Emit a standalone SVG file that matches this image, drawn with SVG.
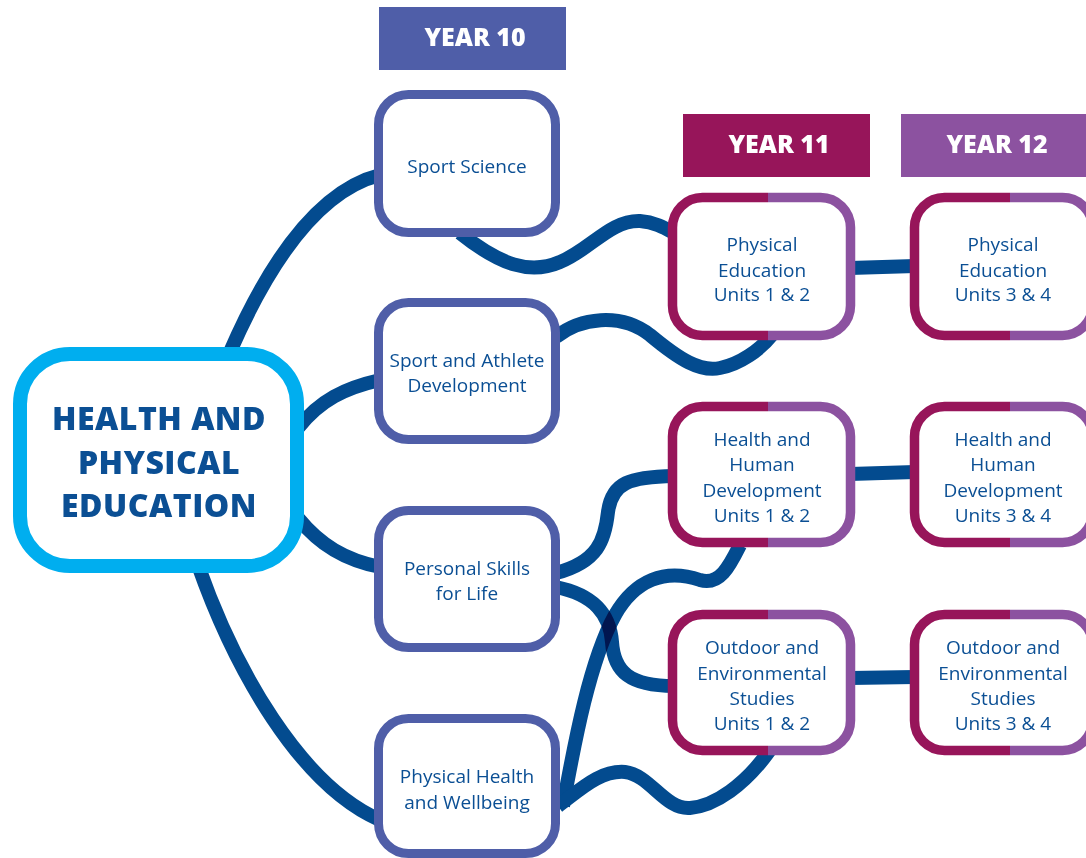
<svg xmlns="http://www.w3.org/2000/svg" width="1086" height="858" viewBox="0 0 1086 858">
<style>
.bg{fill:#ffffff}
.conn path{fill:none;stroke:#034b8f;stroke-width:14;stroke-linecap:butt}
.conn path.mx{mix-blend-mode:multiply}
.main{fill:#ffffff;stroke:#00aeef;stroke-width:14}
.y10{fill:#ffffff;stroke:#4f5ea8;stroke-width:9}
.y11{fill:#ffffff;stroke:url(#split);stroke-width:9.5}
.hdr10{fill:#4f5ea8}
.hdr11{fill:#97155a}
.hdr12{fill:#8c52a0}
.ht{font-family:"Open Sans","Liberation Sans",sans-serif;font-weight:800;font-size:25px;fill:#ffffff;text-anchor:middle}
.mt{font-family:"Open Sans","Liberation Sans",sans-serif;font-weight:800;font-size:32px;fill:#0b4f94;text-anchor:middle;letter-spacing:0.5px}
.nt{font-family:"Open Sans","Liberation Sans",sans-serif;font-size:19px;fill:#0b4f94;text-anchor:middle}
</style>
<defs>
<linearGradient id="split" x1="0" y1="0" x2="1" y2="0">
<stop offset="0" stop-color="#97155a"/>
<stop offset="0.536" stop-color="#97155a"/>
<stop offset="0.536" stop-color="#8c52a0"/>
<stop offset="1" stop-color="#8c52a0"/>
</linearGradient>
</defs>
<rect class="bg" x="0" y="0" width="1086" height="858"/>

<g id="headers">
<g id="year10"><rect class="hdr10" x="379" y="7" width="187" height="63"/><text class="ht" x="475" y="46">YEAR 10</text></g>
<g id="year11"><rect class="hdr11" x="683" y="114" width="187" height="63"/><text class="ht" x="779" y="153">YEAR 11</text></g>
<g id="year12"><rect class="hdr12" x="901" y="114" width="192" height="63"/><text class="ht" x="997" y="153">YEAR 12</text></g>
</g>

<g id="connectors" class="conn">
<path d="M 230 352 C 270 260, 320 190, 380 175"/>
<path d="M 298 428 C 320 400, 345 388, 380 380"/>
<path d="M 298 518 C 320 545, 345 560, 380 567"/>
<path d="M 198 565 C 235 670, 300 785, 380 820"/>
<path d="M 460 233 C 500 265, 530 275, 560 262 C 590 250, 610 220, 640 221 C 655 222, 665 228, 674 233"/>
<path d="M 556 337 C 580 318, 620 312, 650 335 C 680 360, 700 372, 720 368 C 740 364, 760 350, 772 335"/>
<path d="M 850 268 L 915 266"/>
<path d="M 850 474 L 915 472"/>
<path d="M 850 678 L 915 677"/>
<path d="M 556 573 C 598 562, 605 540, 608 512 C 612 482, 630 477, 674 476"/>
<path class="mx" d="M 556 587 C 595 595, 610 615, 612 642 C 614 672, 630 686, 674 686"/>
<path class="mx" d="M 563 806 C 575 740, 590 660, 615 615 C 635 580, 665 568, 700 580 C 720 586, 730 565, 740 545"/>
<path d="M 558 806 C 580 790, 600 770, 625 772 C 650 775, 665 810, 690 808 C 715 806, 745 785, 770 750"/>
</g>

<g id="main-node">
<rect class="main" x="20" y="354" width="277" height="212" rx="50"/>
<text class="mt" x="159" y="430">HEALTH AND</text>
<text class="mt" x="159" y="474">PHYSICAL</text>
<text class="mt" x="159" y="517">EDUCATION</text>
</g>

<g id="sport-science">
<rect class="y10" x="378.5" y="94.5" width="177" height="138" rx="30"/>
<text class="nt" x="467" y="173">Sport Science</text>
</g>
<g id="sport-athlete">
<rect class="y10" x="378.5" y="302.5" width="177" height="137" rx="30"/>
<text class="nt" x="467" y="367">Sport and Athlete</text>
<text class="nt" x="467" y="392">Development</text>
</g>
<g id="personal-skills">
<rect class="y10" x="378.5" y="510.5" width="177" height="137" rx="30"/>
<text class="nt" x="467" y="575">Personal Skills</text>
<text class="nt" x="467" y="600">for Life</text>
</g>
<g id="physical-health">
<rect class="y10" x="378.5" y="718.5" width="177" height="135" rx="30"/>
<text class="nt" x="467" y="783">Physical Health</text>
<text class="nt" x="467" y="809">and Wellbeing</text>
</g>

<g id="pe-12">
<rect class="y11" x="672.5" y="197.5" width="178" height="138" rx="30"/>
<text class="nt" x="762" y="251">Physical</text>
<text class="nt" x="762" y="277">Education</text>
<text class="nt" x="762" y="301">Units 1 &amp; 2</text>
</g>
<g id="hhd-12">
<rect class="y11" x="672.5" y="406.5" width="178" height="136" rx="30"/>
<text class="nt" x="762" y="446">Health and</text>
<text class="nt" x="762" y="471">Human</text>
<text class="nt" x="762" y="497">Development</text>
<text class="nt" x="762" y="522">Units 1 &amp; 2</text>
</g>
<g id="oes-12">
<rect class="y11" x="672.5" y="614.5" width="178" height="136" rx="30"/>
<text class="nt" x="762" y="654">Outdoor and</text>
<text class="nt" x="762" y="680">Environmental</text>
<text class="nt" x="762" y="705">Studies</text>
<text class="nt" x="762" y="730">Units 1 &amp; 2</text>
</g>

<g id="pe-34">
<rect class="y11" x="914.5" y="197.5" width="178" height="138" rx="30"/>
<text class="nt" x="1003" y="251">Physical</text>
<text class="nt" x="1003" y="277">Education</text>
<text class="nt" x="1003" y="301">Units 3 &amp; 4</text>
</g>
<g id="hhd-34">
<rect class="y11" x="914.5" y="406.5" width="178" height="136" rx="30"/>
<text class="nt" x="1003" y="446">Health and</text>
<text class="nt" x="1003" y="471">Human</text>
<text class="nt" x="1003" y="497">Development</text>
<text class="nt" x="1003" y="522">Units 3 &amp; 4</text>
</g>
<g id="oes-34">
<rect class="y11" x="914.5" y="614.5" width="178" height="136" rx="30"/>
<text class="nt" x="1003" y="654">Outdoor and</text>
<text class="nt" x="1003" y="680">Environmental</text>
<text class="nt" x="1003" y="705">Studies</text>
<text class="nt" x="1003" y="730">Units 3 &amp; 4</text>
</g>
</svg>
